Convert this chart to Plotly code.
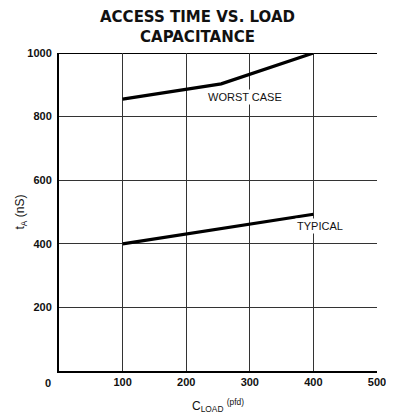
import plotly.graph_objects as go

worst_x = [100, 255, 400]
worst_y = [855, 903, 1000]
typ_x = [100, 400]
typ_y = [400, 493]
x_ticks = [100, 200, 300, 400, 500]
y_ticks = [200, 400, 600, 800, 1000]

FONT = "Arial, Liberation Sans, sans-serif"

fig = go.Figure()
fig.add_trace(go.Scatter(x=worst_x, y=worst_y, mode="lines",
                         line=dict(color="black", width=3.2), showlegend=False))
fig.add_trace(go.Scatter(x=typ_x, y=typ_y, mode="lines",
                         line=dict(color="black", width=3.2), showlegend=False))

font_lbl = dict(family=FONT, size=11, color="#111")
fig.add_annotation(x=292, y=862, text="WORST CASE", showarrow=False, font=font_lbl,
                   bgcolor="white", borderpad=1)
fig.add_annotation(x=410, y=456, text="TYPICAL", showarrow=False, font=font_lbl,
                   bgcolor="white", borderpad=1)
fig.add_annotation(x=0, y=0, text="<b>0</b>", showarrow=False, xshift=-11, yshift=-12,
                   font=dict(family=FONT, size=11, color="#111"))
fig.add_annotation(xref="paper", yref="paper", x=0.434, y=1, yanchor="bottom", yshift=5,
                   text="<b>ACCESS TIME VS. LOAD<br>CAPACITANCE</b>", showarrow=False,
                   font=dict(family="DejaVu Sans, sans-serif", size=15, color="#111"))

tickfont = dict(family=FONT, size=11, color="#111")
fig.update_layout(
    width=386, height=407,
    margin=dict(l=51, r=17, t=45, b=44, autoexpand=False),
    paper_bgcolor="white", plot_bgcolor="white",
    xaxis=dict(range=[0, 500], tickvals=x_ticks, ticktext=[f"<b>{v}</b>" for v in x_ticks],
               showgrid=True, gridcolor="#333", gridwidth=1, zeroline=False, automargin=False,
               showline=True, linecolor="black", linewidth=2, mirror=False, ticks="",
               tickfont=tickfont, ticklabelstandoff=0,
               title=dict(text="C<sub>LOAD</sub> <sup>(pfd)</sup>", standoff=14,
                          font=dict(family=FONT, size=12, color="#111"))),
    yaxis=dict(range=[0, 1000], tickvals=y_ticks, ticktext=[f"<b>{v}</b>" for v in y_ticks],
               showgrid=True, gridcolor="#333", gridwidth=1, zeroline=False, automargin=False,
               showline=True, linecolor="black", linewidth=2, ticks="",
               tickfont=tickfont, ticklabelstandoff=3,
               title=dict(text="t<sub>A</sub> (nS)", standoff=0,
                          font=dict(family=FONT, size=12, color="#111"))),
)
fig.add_shape(type="line", xref="x", yref="y", x0=0, x1=500, y0=1000, y1=1000,
              line=dict(color="black", width=2), layer="below")

fig.write_html("out.html")
